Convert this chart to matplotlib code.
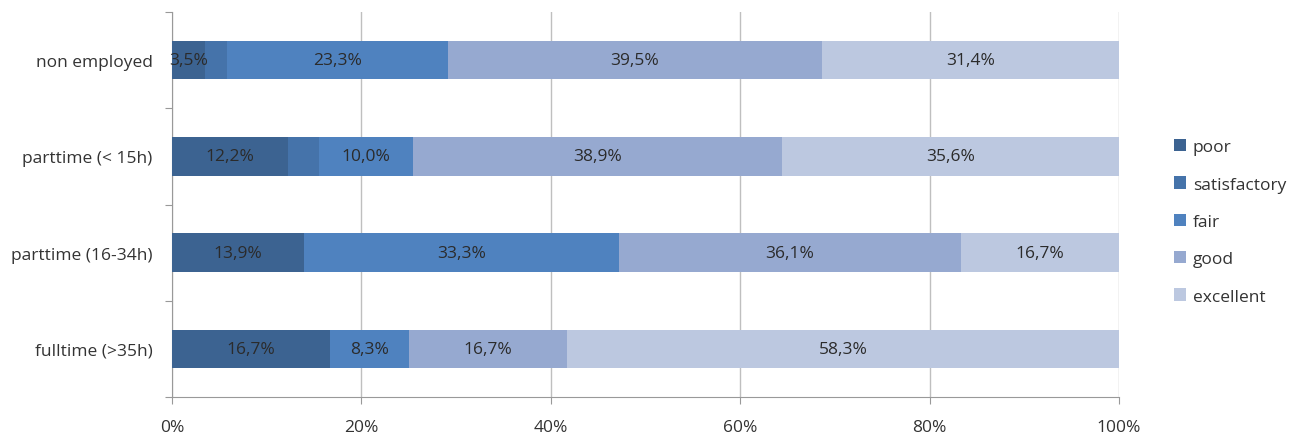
import numpy as np
import matplotlib
matplotlib.use("Agg")
import matplotlib.pyplot as plt

plt.rcParams['font.family'] = ['Open Sans', 'DejaVu Sans']

groups = ['non employed', 'parttime (< 15h)', 'parttime (16-34h)', 'fulltime (>35h)']
levels = ['poor', 'satisfactory', 'fair', 'good', 'excellent']
poor = [3.5, 12.2, 13.9, 16.7]
satisfactory = [2.3, 3.3, 0.0, 0.0]
fair = [23.3, 10.0, 33.3, 8.3]
good = [39.5, 38.9, 36.1, 16.7]
excellent = [31.4, 35.6, 16.7, 58.3]
xticks = [0, 20, 40, 60, 80, 100]

colors = ['#3c6391', '#4573aa', '#4f82bf', '#96a9d0', '#bcc8e0']
series = [poor, satisfactory, fair, good, excellent]
show_label = [True, False, True, True, True]
fs = 12.5

fig = plt.figure(figsize=(12.96, 4.39), dpi=100)
ax = fig.add_axes([172/1296, 41/439, 947/1296, 385/439])

ypos = np.arange(len(groups))[::-1]
left = np.zeros(len(groups))
for vals, col, name, lab in zip(series, colors, levels, show_label):
    vals = np.array(vals)
    ax.barh(ypos, vals, left=left, height=0.4, color=col, label=name, zorder=3)
    if lab:
        for y, l, v in zip(ypos, left, vals):
            if v > 0:
                ax.text(l + v / 2, y, ('%.1f%%' % v).replace('.', ','),
                        ha='center', va='center', fontsize=fs, color='#2b2b2b', zorder=4)
    left += vals

ax.set_xlim(0, 100)
ax.set_ylim(-0.5, len(groups) - 0.5)
ax.set_xticks(xticks)
ax.set_xticklabels(['%d%%' % t for t in xticks], fontsize=fs, color='#333333')
ax.set_yticks(np.arange(-0.5, len(groups), 1.0))
ax.set_yticklabels([])
ax.set_yticks(ypos, minor=True)
ax.set_yticklabels(groups, minor=True, fontsize=fs, color='#333333')
ax.tick_params(axis='y', which='minor', length=0, pad=14)
ax.tick_params(axis='y', which='major', length=5, color='#999999')
ax.tick_params(axis='x', length=5, color='#999999', pad=11)
ax.grid(axis='x', color='#bfbfbf', linewidth=1, zorder=0)
for s in ['top', 'right']:
    ax.spines[s].set_visible(False)
for s in ['left', 'bottom']:
    ax.spines[s].set_color('#999999')

ax.legend(loc='center left', bbox_to_anchor=(1158/947 - 172/947, 0.455), frameon=False,
          fontsize=fs, handlelength=0.7, handleheight=0.7, labelspacing=1.22,
          handletextpad=0.4, labelcolor='#333333')

fig.savefig('out.png', dpi=100)
